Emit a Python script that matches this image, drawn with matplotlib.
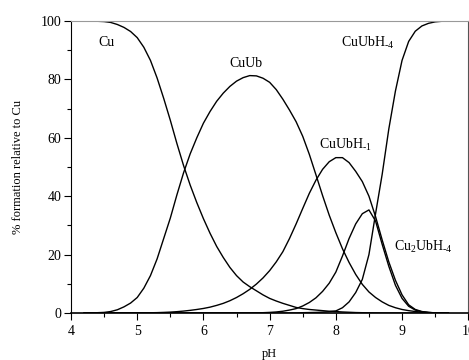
import matplotlib
matplotlib.use('Agg')
import matplotlib.pyplot as plt
from matplotlib.ticker import MultipleLocator

plt.rcParams['font.family'] = ['Liberation Serif', 'DejaVu Serif']
plt.rcParams['mathtext.fontset'] = 'custom'
plt.rcParams['mathtext.rm'] = 'Liberation Serif'
plt.rcParams['mathtext.it'] = 'Liberation Serif:italic'

ph = [4.2, 4.3, 4.4, 4.5, 4.6, 4.7, 4.8, 4.9, 5.0, 5.1, 5.2, 5.3, 5.4, 5.5,
      5.6, 5.7, 5.8, 5.9, 6.0, 6.1, 6.2, 6.3, 6.4, 6.5, 6.6, 6.7, 6.8, 6.9,
      7.0, 7.1, 7.2, 7.3, 7.4, 7.5, 7.6, 7.7, 7.8, 7.9, 8.0, 8.1, 8.2, 8.3,
      8.4, 8.5, 8.6, 8.7, 8.8, 8.9, 9.0, 9.1, 9.2, 9.3, 9.4, 9.5, 9.6, 9.7]

cu = [100, 100, 99.9, 99.8, 99.5, 98.8, 97.8, 96.4, 94.3, 91, 86.5, 80.5, 73.5, 66,
      58, 50.5, 43.8, 37.8, 32.3, 27.3, 22.8, 19, 15.6, 12.8, 10.6, 9.0, 7.6, 6.2,
      5.0, 4.1, 3.3, 2.6, 1.9, 1.5, 1.2, 1.0, 0.8, 0.6, 0.5, 0.35, 0.25, 0.15,
      0.1, 0.05, 0.02, 0, 0, 0, 0, 0, 0, 0, 0, 0, 0, 0]

cuub = [0, 0.05, 0.1, 0.2, 0.5, 1.1, 2.1, 3.4, 5.3, 8.5, 12.8, 18.5, 25.5, 32.5,
        40.5, 48, 54.5, 60, 65, 69, 72.5, 75.3, 77.6, 79.4, 80.6, 81.3, 81.2, 80.4,
        79, 76.5, 73.2, 69.5, 65.5, 60.5, 54.3, 47.3, 40.2, 33.5, 27.5, 22, 17.3, 13.2,
        9.8, 7.2, 5.3, 3.8, 2.6, 1.8, 1.2, 0.8, 0.5, 0.3, 0.15, 0.05, 0, 0]

cuubh1 = [0, 0, 0, 0, 0, 0, 0, 0, 0.03, 0.05, 0.08, 0.12, 0.2, 0.3,
          0.45, 0.65, 0.9, 1.2, 1.55, 2.0, 2.6, 3.3, 4.2, 5.3, 6.6, 8.1, 9.9, 12,
          14.5, 17.5, 21, 25.5, 30.5, 35.8, 41, 45.5, 49.2, 51.8, 53.2, 53.2, 51.5, 48.5,
          45, 40, 33, 25, 17.5, 11.2, 6.2, 2.8, 1.2, 0.5, 0.2, 0.05, 0, 0]

cu2ubh4 = [0, 0, 0, 0, 0, 0, 0, 0, 0, 0, 0, 0, 0, 0,
           0, 0, 0, 0, 0, 0, 0, 0, 0, 0, 0, 0, 0.05, 0.1,
           0.2, 0.35, 0.6, 1.0, 1.5, 2.4, 3.6, 5.2, 7.4, 10.2, 14, 19.5, 25.5, 30.5,
           34, 35.3, 31.5, 23.5, 16, 9.5, 5, 2.3, 1.0, 0.4, 0.15, 0.05, 0, 0]

cuubh4 = [0, 0, 0, 0, 0, 0, 0, 0, 0, 0, 0, 0, 0, 0,
          0, 0, 0, 0, 0, 0, 0, 0, 0, 0, 0, 0, 0, 0,
          0, 0, 0, 0, 0, 0.1, 0.15, 0.2, 0.3, 0.45, 0.7, 1.8, 3.8, 7.0,
          11.5, 20, 34, 47.5, 63, 76, 86.5, 93, 96.5, 98.3, 99.2, 99.7, 99.9, 100]

fig = plt.figure(figsize=(4.69, 3.6), dpi=100)
ax = fig.add_axes([0.1514, 0.1306, 0.847, 0.8111])

for series in [cu, cuub, cuubh1, cu2ubh4, cuubh4]:
    ax.plot(ph, series, color='black', lw=1.0)

ax.set_xlim(4, 10)
ax.set_ylim(0, 100)
ax.xaxis.set_major_locator(MultipleLocator(1))
ax.xaxis.set_minor_locator(MultipleLocator(0.5))
ax.yaxis.set_major_locator(MultipleLocator(20))
ax.yaxis.set_minor_locator(MultipleLocator(10))
ax.tick_params(which='major', direction='out', length=5, width=0.8, labelsize=10, pad=2)
ax.tick_params(which='minor', direction='out', length=3, width=0.8)
ax.tick_params(axis='x', which='major', pad=4)

ax.spines['top'].set_color('#999999')
ax.spines['right'].set_color('#555555')
ax.spines['bottom'].set_linewidth(1.2)

ax.set_xlabel('pH', fontsize=9, labelpad=7)
ax.set_ylabel('% formation relative to Cu', fontsize=9, labelpad=12)

ax.text(4.41, 92.5, 'Cu', fontsize=10, va='center', ha='left')
ax.text(6.64, 85.6, 'CuUb', fontsize=10, va='center', ha='center')
ax.text(7.74, 57.5, r'CuUbH$_{\text{-1}}$', fontsize=10, va='center', ha='left')
ax.text(8.08, 92.5, r'CuUbH$_{\text{-4}}$', fontsize=10, va='center', ha='left')
ax.text(8.88, 22.5, r'Cu$_{\text{2}}$UbH$_{\text{-4}}$', fontsize=10, va='center', ha='left')

plt.savefig('out.png', dpi=100)
